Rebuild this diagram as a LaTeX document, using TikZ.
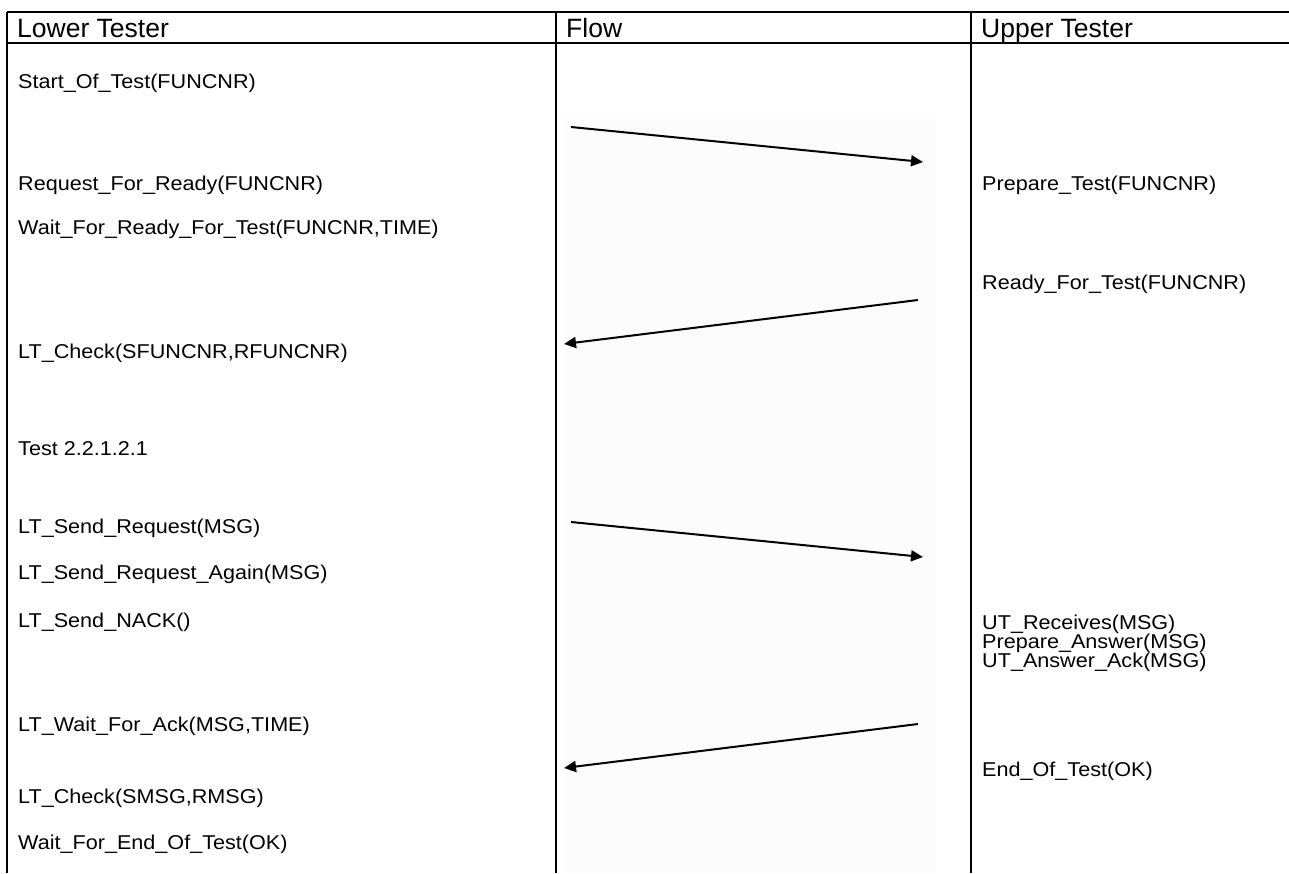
\documentclass[tikz,border=0pt]{standalone}
\usepackage{fontspec}
\setmainfont{Liberation Sans}
\newfontfamily\stepfont[FakeStretch=1.08]{Liberation Sans}
\usetikzlibrary{arrows.meta}
\begin{document}
\begin{tikzpicture}[x=1pt,y=-1pt,
  rule/.style={line width=2.5pt},
  hdr/.style={anchor=base west, inner sep=0pt, font=\fontsize{26.5}{30}\selectfont},
  txt/.style={anchor=base west, inner sep=0pt, font=\stepfont\fontsize{20}{23}\selectfont},
  msg/.style={line width=2pt, -{Triangle[length=12pt,width=11pt]}}]
\useasboundingbox (0,0) rectangle (1289,873);

% faint backdrop behind the message arrows
\fill[black!1] (563,118) rectangle (936,873);

% table rules
\draw[rule] (7,12) -- (1289,12);
\draw[rule] (7,43) -- (1289,43);
\draw[rule] (7,12) -- (7,873);
\draw[rule] (556,12) -- (556,873);
\draw[rule] (971,12) -- (971,873);

% column headings
\node[hdr] (hLT) at (17,37) {Lower Tester};
\node[hdr] (hFl) at (566,37) {Flow};
\node[hdr] (hUT) at (981,37) {Upper Tester};

% lower tester steps
\node[txt] (l1)  at (18,88)  {Start\_Of\_Test(FUNCNR)};
\node[txt] (l2)  at (18,190) {Request\_For\_Ready(FUNCNR)};
\node[txt] (l3)  at (18,234) {Wait\_For\_Ready\_For\_Test(FUNCNR,TIME)};
\node[txt] (l4)  at (18,358) {LT\_Check(SFUNCNR,RFUNCNR)};
\node[txt] (l5)  at (18,455) {Test 2.2.1.2.1};
\node[txt] (l6)  at (18,533) {LT\_Send\_Request(MSG)};
\node[txt] (l7)  at (18,579) {LT\_Send\_Request\_Again(MSG)};
\node[txt] (l8)  at (18,627) {LT\_Send\_NACK()};
\node[txt] (l9)  at (18,731) {LT\_Wait\_For\_Ack(MSG,TIME)};
\node[txt] (l10) at (18,803) {LT\_Check(SMSG,RMSG)};
\node[txt] (l11) at (18,849) {Wait\_For\_End\_Of\_Test(OK)};

% upper tester steps
\node[txt] (u1) at (982,190) {Prepare\_Test(FUNCNR)};
\node[txt] (u2) at (982,289) {Ready\_For\_Test(FUNCNR)};
\node[txt] (u3) at (982,629) {UT\_Receives(MSG)};
\node[txt] (u4) at (982,648) {Prepare\_Answer(MSG)};
\node[txt] (u5) at (982,667) {UT\_Answer\_Ack(MSG)};
\node[txt] (u6) at (982,776) {End\_Of\_Test(OK)};

% message end points
\coordinate (m1a) at (571,127);
\coordinate (m1b) at (923,162);
\coordinate (m2a) at (918,300);
\coordinate (m2b) at (564,344);
\coordinate (m3a) at (571,522);
\coordinate (m3b) at (923,557);
\coordinate (m4a) at (918,724);
\coordinate (m4b) at (564,768);

\draw[msg] (m1a) -- (m1b);
\draw[msg] (m2a) -- (m2b);
\draw[msg] (m3a) -- (m3b);
\draw[msg] (m4a) -- (m4b);
\end{tikzpicture}
\end{document}
